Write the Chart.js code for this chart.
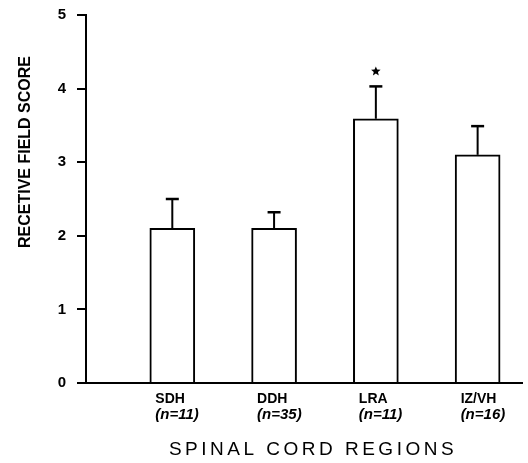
<!DOCTYPE html>
<html>
<head>
<meta charset="utf-8">
<script src="https://cdn.jsdelivr.net/npm/chart.js@4/dist/chart.umd.min.js"></script>
<style>
  html, body { margin: 0; padding: 0; background: #fff; }
  #wrap { width: 528px; height: 463px; position: relative; }
</style>
</head>
<body>
<div id="wrap"><canvas id="c"></canvas></div>
<script>
const CATEGORIES = ['SDH', 'DDH', 'LRA', 'IZ/VH'];
const N_LABELS = ['(n=11)', '(n=35)', '(n=11)', '(n=16)'];
const MEANS = [2.1, 2.1, 3.59, 3.1];
const SEMS = [0.40, 0.22, 0.44, 0.39];
const SIGNIFICANT = [false, false, true, false];
const Y_TICKS = [0, 1, 2, 3, 4, 5];
const X_TITLE = 'SPINAL CORD REGIONS';
const Y_TITLE = 'RECETIVE FIELD SCORE';

const FONT = '"Liberation Sans", Arial, Helvetica, sans-serif';

const points = CATEGORIES.map((c, i) => ({ x: i + 1, y: MEANS[i] }));

const extrasPlugin = {
  id: 'extras',
  afterDatasetsDraw(chart) {
    const ctx = chart.ctx;
    const meta = chart.getDatasetMeta(0);
    const ys = chart.scales.y;
    ctx.save();
    ctx.strokeStyle = '#000';
    ctx.fillStyle = '#000';
    meta.data.forEach((bar, i) => {
      const top = ys.getPixelForValue(MEANS[i]);
      const cap = ys.getPixelForValue(MEANS[i] + SEMS[i]);
      ctx.lineWidth = 2;
      ctx.beginPath();
      ctx.moveTo(bar.x, top);
      ctx.lineTo(bar.x, cap);
      ctx.stroke();
      ctx.lineWidth = 2.5;
      ctx.beginPath();
      ctx.moveTo(bar.x - 6.5, cap);
      ctx.lineTo(bar.x + 6.5, cap);
      ctx.stroke();
      if (SIGNIFICANT[i]) {
        const cx = bar.x, cy = cap - 15, R = 5, r = 2.2;
        ctx.beginPath();
        for (let k = 0; k < 10; k++) {
          const rad = k % 2 === 0 ? R : r;
          const a = -Math.PI / 2 + k * Math.PI / 5;
          const px = cx + rad * Math.cos(a), py = cy + rad * Math.sin(a);
          if (k === 0) ctx.moveTo(px, py); else ctx.lineTo(px, py);
        }
        ctx.closePath();
        ctx.fill();
      }
    });
    ctx.restore();
  },
  afterDraw(chart) {
    const ctx = chart.ctx;
    const area = chart.chartArea;
    ctx.save();
    ctx.fillStyle = '#000';
    ctx.font = 'bold 16px ' + FONT;
    ctx.textAlign = 'center';
    ctx.textBaseline = 'middle';
    ctx.translate(26, area.top + 137);
    ctx.rotate(-Math.PI / 2);
    ctx.fillText(Y_TITLE, 0, 0);
    ctx.restore();
    ctx.save();
    ctx.fillStyle = '#000';
    ctx.font = '19px ' + FONT;
    ctx.textAlign = 'center';
    ctx.textBaseline = 'middle';
    try { ctx.letterSpacing = '3.5px'; } catch (e) {}
    ctx.fillText(X_TITLE, 313, area.bottom + 67);
    ctx.restore();
  }
};

new Chart(document.getElementById('c'), {
  type: 'bar',
  data: {
    datasets: [{
      data: points,
      backgroundColor: '#fff',
      borderColor: '#000',
      borderWidth: 2,
      barThickness: 45
    }]
  },
  options: {
    responsive: true,
    maintainAspectRatio: false,
    animation: false,
    layout: { padding: { top: 15, right: 6, bottom: 0, left: 0 } },
    plugins: { legend: { display: false }, tooltip: { enabled: false } },
    scales: {
      x: {
        type: 'linear',
        position: 'bottom',
        offset: false,
        min: 0.152,
        max: 4.436,
        afterBuildTicks: (s) => { s.ticks = CATEGORIES.map((c, i) => ({ value: i + 1 })); },
        afterFit: (s) => { s.height = 24; s.paddingLeft = 0; s.paddingRight = 0; },
        ticks: {
          callback: (v, i) => CATEGORIES[i],
          align: 'start',
          labelOffset: -17,
          padding: 8,
          maxRotation: 0,
          autoSkip: false,
          color: '#000',
          font: { family: FONT, size: 14, weight: 'bold' }
        },
        grid: { display: false, drawTicks: false },
        border: { display: true, color: '#000', width: 2 }
      },
      x2: {
        type: 'linear',
        position: 'bottom',
        offset: false,
        min: 0.152,
        max: 4.436,
        afterBuildTicks: (s) => { s.ticks = N_LABELS.map((c, i) => ({ value: i + 1 })); },
        afterFit: (s) => { s.height = 56; s.paddingLeft = 0; s.paddingRight = 0; },
        ticks: {
          callback: (v, i) => N_LABELS[i],
          align: 'start',
          labelOffset: -17,
          padding: 0,
          maxRotation: 0,
          autoSkip: false,
          color: '#000',
          font: { family: FONT, size: 15, style: 'italic', weight: 'bold', lineHeight: 1 }
        },
        grid: { display: false, drawTicks: false },
        border: { display: false }
      },
      y: {
        min: 0,
        max: 5,
        afterBuildTicks: (s) => { s.ticks = Y_TICKS.map(v => ({ value: v })); },
        afterFit: (s) => { s.width = 86; s.paddingTop = 0; s.paddingBottom = 0; },
        ticks: {
          padding: 11,
          color: '#000',
          font: { family: FONT, size: 15, weight: 'bold' }
        },
        grid: { drawOnChartArea: false, drawTicks: true, tickLength: 9, color: '#000', lineWidth: 2 },
        border: { display: true, color: '#000', width: 2 }
      }
    }
  },
  plugins: [extrasPlugin]
});
</script>
</body>
</html>
